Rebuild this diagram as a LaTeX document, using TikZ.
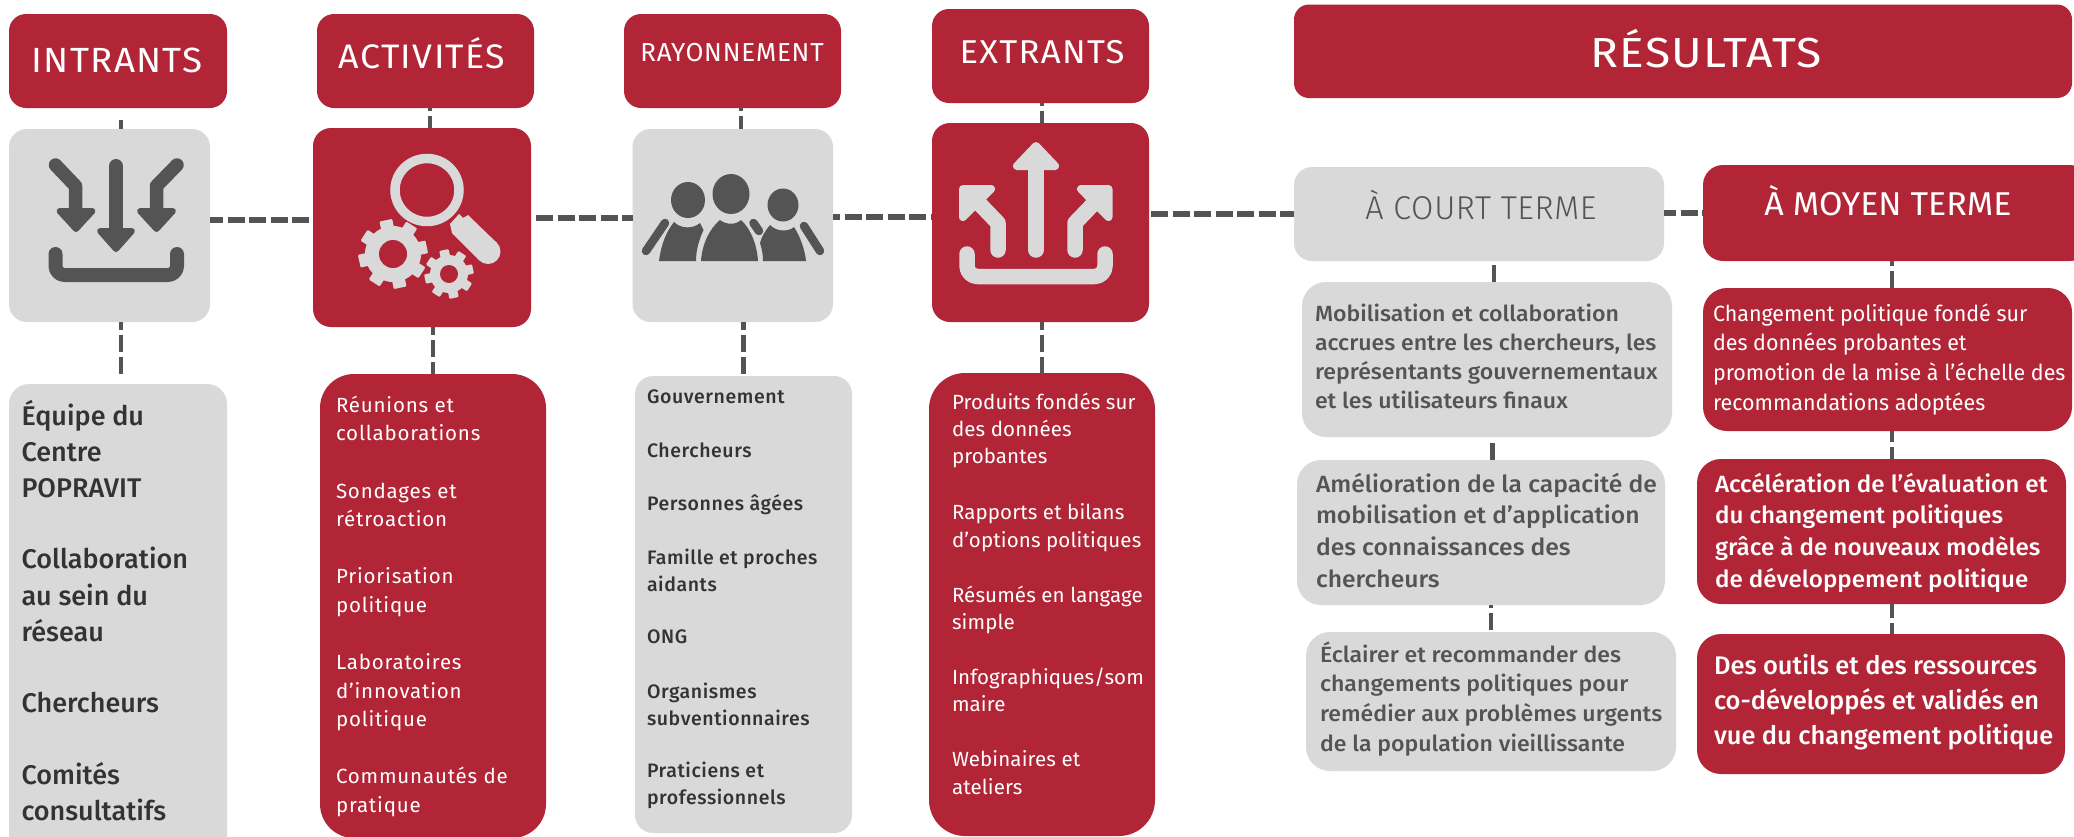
\documentclass[tikz,border=0pt]{standalone}
\usepackage{fontspec}
\usetikzlibrary{calc}
\setmainfont{Fira Sans}
\newfontfamily\fBody[LetterSpace=4]{Fira Sans}
\newfontfamily\fBodyE[LetterSpace=0.6]{Fira Sans}
\newfontfamily\fMed[LetterSpace=3]{Fira Sans Medium}
\newfontfamily\fMedI{Fira Sans Medium}
\newfontfamily\fHead[LetterSpace=4,FakeStretch=1.05]{Fira Sans}
\newfontfamily\fHeadR[LetterSpace=3]{Fira Sans}
\newfontfamily\fCond[FakeStretch=1.03]{Fira Sans Medium}
\newfontfamily\fCondT[FakeStretch=1.0]{Fira Sans Medium}
\newfontfamily\fCondG[FakeStretch=1.05]{Fira Sans Medium}
\newfontfamily\fCondR[FakeStretch=.975]{Fira Sans}
\newfontfamily\fTitre[FakeStretch=1.1,LetterSpace=3]{Fira Sans}
\newfontfamily\fTitM[FakeStretch=1.03]{Fira Sans}
\newfontfamily\fCondL[FakeStretch=.98,LetterSpace=2]{Fira Sans Light}
\definecolor{rouge}{HTML}{B12536}
\definecolor{gris}{HTML}{D9D9D9}
\definecolor{fonce}{HTML}{545454}
\definecolor{encre}{HTML}{333333}
\newcommand{\rbox}[7]{%
  \pgfmathsetmacro{\bw}{#4-#2}\pgfmathsetmacro{\bh}{#5-#3}%
  \pgfmathsetmacro{\bx}{(#4+#2)/2}\pgfmathsetmacro{\by}{(#5+#3)/2}%
  \node[boxn,fill=#7,rounded corners=#6pt,minimum width=\bw pt,minimum height=\bh pt] (#1) at (\bx,\by) {};}
\newcommand{\fs}[2]{\fontsize{#1pt}{#2pt}\selectfont}
\newcommand{\st}{\rule{0pt}{30pt}}
\newcommand{\gearshape}[6]{% x y R r teeth toothwidth
  \begin{scope}[shift={(#1,#2)}]
    \fill[gris] (0,0) circle[radius=#4];
    \foreach \a in {1,...,#5}{\fill[gris,rotate=\a*360/#5+12,rounded corners=1pt] (-#6/2,0) rectangle (#6/2,#3);}
  \end{scope}}
\tikzset{
  boxn/.style={inner sep=0pt,outer sep=0pt,draw=none,shape=rectangle},
  conn/.style={draw=fonce,line width=5.5pt,dash pattern=on 17pt off 4.5pt},
  connv/.style={draw=fonce,line width=4.5pt,dash pattern=on 17pt off 5pt},
  txt/.style={anchor=north west,inner sep=0pt,outer sep=0pt,align=left},
  hd/.style={anchor=base,inner sep=0pt,outer sep=0pt},
  iconline/.style={line cap=round,line join=round},
}
\begin{document}
\begin{tikzpicture}[x=1pt,y=-1pt]
\useasboundingbox (0,0) rectangle (2074,836);
\clip (0,0) rectangle (2074,836);
\fill[white] (0,0) rectangle (2074,836);
% boxes
\rbox{hI}{9}{14}{227}{108}{17}{rouge}
\rbox{hA}{317}{14}{534}{108}{17}{rouge}
\rbox{hR}{624}{14}{841}{108}{17}{rouge}
\rbox{hE}{932}{9}{1149}{103}{17}{rouge}
\rbox{hS}{1294}{4.5}{2072}{98}{15}{rouge}
\rbox{iI}{9}{129}{210}{322}{18}{gris}
\rbox{iA}{313}{128}{531}{327}{18}{rouge}
\rbox{iR}{632.5}{129}{833}{322}{18}{gris}
\rbox{iE}{932}{123}{1149}{322}{18}{rouge}
\rbox{lI}{9}{384}{227}{860}{20}{gris}
\rbox{lA}{320}{374}{546}{838}{34}{rouge}
\rbox{lR}{635}{376}{852}{833}{18}{gris}
\rbox{lE}{929}{373}{1155}{836}{36}{rouge}
\rbox{hC}{1294}{167}{1664}{261}{18}{gris}
\rbox{hM}{1703}{165}{2090}{261}{20}{rouge}
\rbox{c1}{1302}{282}{1672}{437}{24}{gris}
\rbox{c2}{1297}{460}{1665}{605}{24}{gris}
\rbox{c3}{1306}{632}{1676}{771}{24}{gris}
\rbox{m1}{1703}{288}{2072}{431}{24}{rouge}
\rbox{m2}{1697}{459}{2066}{604}{24}{rouge}
\rbox{m3}{1697}{634}{2065}{774}{24}{rouge}
% connectors
\draw[conn,dash phase=4pt] (iI.east |- 0,220) -- (iA.west |- 0,220);
\draw[conn,dash phase=0pt] ([xshift=5pt]iA.east |- 0,218) -- (iR.west |- 0,218);
\draw[conn,dash phase=10pt] (iR.east |- 0,217) -- (iE.west |- 0,217);
\draw[conn,dash phase=0pt] ([xshift=2pt]iE.east |- 0,214) -- (hC.west |- 0,214);
\draw[conn,dash phase=5pt] (hC.east |- 0,213) -- (hM.west |- 0,213);
\draw[connv] ([yshift=9pt]iI.north -| 121,0) -- (iI.north -| 121,0);
\draw[connv,dash phase=14pt] (hA.south -| 430,0) -- (iA.north -| 430,0);
\draw[connv,dash phase=14pt] (hR.south -| 741,0) -- (iR.north -| 741,0);
\draw[connv,dash phase=14pt] (hE.south -| 1042,0) -- (iE.north -| 1042,0);
\draw[connv,dash phase=9pt] (iI.south -| 121,0) -- ([yshift=10pt]lI.north -| 121,0);
\draw[connv,dash phase=9pt] (iA.south -| 433,0) -- (lA.north -| 433,0);
\draw[connv,dash phase=9pt] (iR.south -| 743.5,0) -- (lR.north -| 743.5,0);
\draw[connv,dash phase=9pt] (iE.south -| 1042,0) -- (lE.north -| 1042,0);
\draw[connv] ([yshift=17pt]c1.north -| 1494,0) -- (c1.north -| 1494,0);
\draw[connv] ([yshift=17pt]c2.north -| 1492.5,0) -- (c2.north -| 1492.5,0);
\draw[connv,dash phase=14pt] (c2.south -| 1491,0) -- (c3.north -| 1491,0);
\draw[connv,dash phase=12pt] (hM.south -| 1892,0) -- (m1.north -| 1892,0);
\draw[connv,dash phase=6pt] (m1.south -| 1892,0) -- (m2.north -| 1892,0);
\draw[connv,dash phase=3pt] (m2.south -| 1892,0) -- (m3.north -| 1892,0);
% headers
\node[hd,text=white,font=\fHead\fs{35}{40}] (tI) at (117,72) {INTRANTS};
\node[hd,text=white,font=\fHead\fs{34}{40}] (tA) at (422,68) {ACTIVITÉS};
\node[hd,text=white,font=\fHeadR\fs{26}{30}] (tR) at (732,61) {RAYONNEMENT};
\node[hd,text=white,font=\fHead\fs{33}{40}] (tE) at (1042,63) {EXTRANTS};
\node[hd,text=white,font=\fTitre\fs{42}{50}] (tS) at (1706,67) {RÉSULTATS};
\node[hd,text=fonce,font=\fCondL\fs{33}{40}] (tC) at (1481,219) {À COURT TERME};
\node[hd,text=white,font=\fTitM\fs{33}{40}] (tM) at (1888,215) {À MOYEN TERME};
% lists
\node[txt,text=encre,font=\fMedI\fs{27}{36.3}] (xI) at (21.5,395) {\st Équipe du\\Centre\\POPRAVIT\\[35pt]Collaboration\\au sein du\\réseau\\[35pt]Chercheurs\\[35.5pt]Comités\\consultatifs};
\node[txt,text=white,font=\fBody\fs{20.5}{28.6}] (xA) at (336,382) {\st Réunions et\\collaborations\\[29pt]Sondages et\\rétroaction\\[28.5pt]Priorisation\\politique\\[28.5pt]Laboratoires\\d’innovation\\politique\\[28.5pt]Communautés de\\pratique};
\node[txt,text=encre,font=\fMed\fs{19.5}{27}] (xR) at (647,373) {\st Gouvernement\\[27pt]Chercheurs\\[26pt]Personnes âgées\\[27pt]Famille et proches\\aidants\\[25pt]ONG\\[28pt]Organismes\\subventionnaires\\[25pt]Praticiens et\\professionnels};
\node[txt,text=white,font=\fBodyE\fs{20.5}{27.4}] (xE) at (952,379) {\st Produits fondés sur\\des données\\probantes\\[28.4pt]Rapports et bilans\\d’options politiques\\[27.6pt]Résumés en langage\\simple\\[27.6pt]Infographiques/som\\maire\\[27.6pt]Webinaires et\\ateliers};
\node[txt,text=fonce,font=\fCondG\fs{22}{29.3}] (xc1) at (1315,291) {\st Mobilisation et collaboration\\accrues entre les chercheurs, les\\représentants gouvernementaux\\et les utilisateurs finaux};
\node[txt,text=fonce,font=\fCondG\fs{23.5}{31.7}] (xc2) at (1316,462) {\st Amélioration de la capacité de\\mobilisation et d’application\\des connaissances des\\chercheurs};
\node[txt,text=fonce,font=\fCondG\fs{22}{29.7}] (xc3) at (1320,632) {\st Éclairer et recommander des\\changements politiques pour\\remédier aux problèmes urgents\\de la population vieillissante};
\node[txt,text=white,font=\fCondR\fs{22}{29.7}] (xm1) at (1713,291) {\st Changement politique fondé sur\\des données probantes et\\promotion de la mise à l’échelle des\\recommandations adoptées};
\node[txt,text=white,font=\fCond\fs{23.5}{31.7}] (xm2) at (1715,462) {\st Accélération de l’évaluation et\\du changement politiques\\grâce à de nouveaux modèles\\de développement politique};
\node[txt,text=white,font=\fCondT\fs{25.5}{35}] (xm3) at (1714,644) {\st Des outils et des ressources\\co-développés et validés en\\vue du changement politique};
% icon: intrants
\begin{scope}[draw=fonce,fill=fonce,iconline]
  \draw[line width=14pt] (116,166) -- (116,240);
  \filldraw[line width=6pt] (100,231) -- (132,231) -- (116,249) -- cycle;
  \draw[line width=13.5pt] (55.5,165) -- (75.5,186) -- (75.5,215);
  \filldraw[line width=6pt] (59.5,211) -- (92.5,211) -- (76,229) -- cycle;
  \draw[line width=13.5pt] (177,165) -- (156.5,186) -- (156.5,215);
  \filldraw[line width=6pt] (140,211) -- (173,211) -- (156.5,229) -- cycle;
  \draw[line width=14pt] (55.5,254) -- (55.5,266) arc[start angle=180,end angle=90,radius=9] -- (168,275) arc[start angle=90,end angle=0,radius=9] -- (177,254);
\end{scope}
% icon: activites
\draw[gris,line width=9.5pt] (427,190) circle[x radius=32,y radius=31.5];
\fill[gris] (459,214) -- (463,218) -- (468,215) -- (497,243) -- (479,260) -- (452,233) -- (450,224) -- cycle;
\fill[gris] (488,251.5) circle[radius=12.5];
\gearshape{393}{254}{34.5}{28}{8}{13}
\fill[rouge] (393,254) circle[radius=14];
\gearshape{449}{274}{24.5}{19}{8}{9.5}
\fill[rouge] (449,274) circle[radius=9];
% icon: rayonnement
\begin{scope}[fonce]
  \fill (688,200) ellipse[x radius=17,y radius=18];
  \fill (731,194) ellipse[x radius=18.5,y radius=20];
  \fill (783,205) ellipse[x radius=15.5,y radius=16.5];
  \fill (659,261) .. controls (661,245) and (666,232) .. (674,222) .. controls (681,229) and (693,229) .. (700,223) -- (703.5,230) .. controls (699,240) and (696,250) .. (696,261) -- cycle;
  \fill (701,261) .. controls (702,245) and (709,229) .. (720,220) .. controls (726,225) and (736,225) .. (741,220) .. controls (751,229) and (757,245) .. (758,261) -- cycle;
  \fill (763,261) .. controls (763,255) and (762,249) .. (760,243) .. controls (762,236) and (765,231) .. (770,225) .. controls (777,232) and (788,232) .. (794,227) .. controls (800,236) and (805,250) .. (806,261) -- cycle;
  \draw[line width=8.5pt,line cap=round] (665,223) -- (646,251);
  \draw[line width=8.5pt,line cap=round] (804,226) -- (820,251);
  \draw[line width=8.5pt,line cap=round] (753.5,223) -- (759,231);
\end{scope}
% icon: extrants
\begin{scope}[draw=gris,fill=gris,iconline]
  \draw[line width=15.5pt] (1036,165) -- (1036,250);
  \filldraw[line width=8pt] (1017,166) -- (1055,166) -- (1036,146) -- cycle;
  \draw[line width=15.5pt] (998,250) -- (998,223) -- (972,196);
  \filldraw[line width=8pt] (963,189) -- (991,189) -- (963,217) -- cycle;
  \draw[line width=15.5pt] (1075,250) -- (1075,223) -- (1101,196);
  \filldraw[line width=8pt] (1108.5,189) -- (1081,189) -- (1108.5,217) -- cycle;
  \draw[line width=15.5pt] (967,254) -- (967,266) arc[start angle=180,end angle=90,radius=10.5] -- (1094.5,276.5) arc[start angle=90,end angle=0,radius=10.5] -- (1105,254);
\end{scope}
\end{tikzpicture}
\end{document}
